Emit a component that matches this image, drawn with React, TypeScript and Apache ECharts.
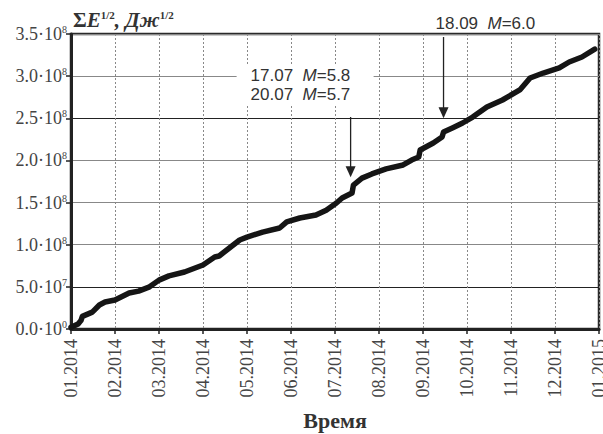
import React, { useEffect, useRef } from "react";
import * as echarts from "echarts";

const monthLabels = [
  "01.2014", "02.2014", "03.2014", "04.2014", "05.2014", "06.2014", "07.2014",
  "08.2014", "09.2014", "10.2014", "11.2014", "12.2014", "01.2015",
];

// Dates of the curve points
const dates = [
  "2014-01-01", "2014-01-06", "2014-01-08", "2014-01-09", "2014-01-16", "2014-01-21",
  "2014-01-25", "2014-02-01", "2014-02-10", "2014-02-16", "2014-02-23", "2014-03-01",
  "2014-03-08", "2014-03-19", "2014-04-01", "2014-04-09", "2014-04-12", "2014-04-26",
  "2014-05-01", "2014-05-12", "2014-05-24", "2014-05-29", "2014-06-07", "2014-06-18",
  "2014-06-25", "2014-07-02", "2014-07-06", "2014-07-13", "2014-07-14", "2014-07-20",
  "2014-07-27", "2014-08-06", "2014-08-18", "2014-08-24", "2014-08-29", "2014-08-30",
  "2014-09-08", "2014-09-14", "2014-09-15", "2014-09-21", "2014-09-28", "2014-10-05",
  "2014-10-15", "2014-10-26", "2014-11-07", "2014-11-14", "2014-11-23", "2014-12-04",
  "2014-12-11", "2014-12-20", "2014-12-29",
];
// Cumulative sum of E^(1/2), in units of 1e8 J^(1/2)
const sumE8 = [
  0.02, 0.06, 0.1, 0.15, 0.2, 0.285,
  0.32, 0.344, 0.427, 0.45, 0.5, 0.58,
  0.63, 0.676, 0.76, 0.854, 0.866, 1.056,
  1.09, 1.15, 1.198, 1.27, 1.317, 1.353,
  1.41, 1.495, 1.554, 1.613, 1.708, 1.79,
  1.84, 1.9, 1.946, 2.005, 2.04, 2.124,
  2.207, 2.278, 2.337, 2.385, 2.444, 2.515,
  2.634, 2.717, 2.836, 2.978, 3.037, 3.097,
  3.168, 3.227, 3.32,
];

// Annotations (arrows)
const arrowDates = ["2014-07-12", "2014-09-15"];
const arrowTopE8 = [2.515, 3.464];
const arrowTipE8 = [1.8, 2.5];

const SERIF = "Liberation Serif";
const SANS = "Liberation Sans";

function toMonth(d: string): number {
  const [y, m, day] = d.split("-").map(Number);
  const dim = new Date(y, m, 0).getDate();
  return (y - 2014) * 12 + (m - 1) + (day - 1) / dim;
}

function yLabel(v: number): string {
  if (v === 0) return "0.0·10{s|0}";
  const e = Math.floor(Math.log10(v) + 1e-9);
  const m = v / Math.pow(10, e);
  return m.toFixed(1) + "·10{s|" + e + "}";
}

export default function App() {
  const ref = useRef<HTMLDivElement>(null);
  useEffect(() => {
    if (!ref.current) return;
    const chart = echarts.init(ref.current, undefined, { renderer: "svg" });
    const data = dates.map((d, i) => [toMonth(d), sumE8[i] * 1e8]);
    chart.setOption({
      animation: false,
      grid: {
        left: 71,
        right: 4,
        top: 34,
        bottom: 105,
        containLabel: false,
        outerBoundsMode: "none",
        show: true,
        borderColor: "#2a2a2a",
        borderWidth: 2.5,
        backgroundColor: "transparent",
      },
      xAxis: {
        type: "value",
        min: 0,
        max: 12,
        interval: 1,
        name: "Время",
        nameLocation: "middle",
        nameGap: 80,
        nameTextStyle: { fontFamily: SERIF, fontWeight: "bold", fontSize: 22, color: "#333" },
        axisLine: { show: true, onZero: false, lineStyle: { color: "#222", width: 3 } },
        axisTick: { show: true, length: 5, lineStyle: { color: "#222", width: 1.5 } },
        axisLabel: {
          rotate: 90,
          margin: 10,
          fontFamily: SERIF,
          fontSize: 18,
          color: "#444",
          hideOverlap: false,
          formatter: (v: number) => monthLabels[Math.round(v)] ?? "",
        },
        splitLine: { show: true, lineStyle: { color: "#888", width: 1, type: [2, 2] } },
      },
      yAxis: {
        type: "value",
        min: 0,
        max: 3.5e8,
        interval: 5e7,
        axisLine: { show: true, lineStyle: { color: "#222", width: 3 } },
        axisTick: { show: true, length: 5, lineStyle: { color: "#222", width: 1.5 } },
        axisLabel: {
          margin: 4,
          fontFamily: SERIF,
          fontSize: 18,
          color: "#444",
          formatter: yLabel,
          rich: {
            s: { fontFamily: SERIF, fontSize: 10, color: "#444", verticalAlign: "top", padding: [0, 0, 9, 0] },
          },
        },
        splitLine: {
          show: true,
          lineStyle: {
            color: ["#888", "#222", "#888", "#888", "#888", "#222", "#888", "#888"],
            width: 1,
          },
        },
      },
      series: [
        {
          type: "line",
          data,
          showSymbol: false,
          symbol: "none",
          lineStyle: { color: "#151515", width: 5.5, join: "round", cap: "round" },
          z: 5,
        },
      ],
    });

    const px = (d: string, v: number) =>
      chart.convertToPixel({ gridIndex: 0 }, [toMonth(d), v * 1e8]) as number[];
    const a1t = px(arrowDates[0], arrowTopE8[0]);
    const a1h = px(arrowDates[0], arrowTipE8[0]);
    const a2t = px(arrowDates[1], arrowTopE8[1]);
    const a2h = px(arrowDates[1], arrowTipE8[1]);

    const arrow = (top: number[], tip: number[]) => [
      {
        type: "line",
        shape: { x1: top[0], y1: top[1], x2: tip[0], y2: tip[1] - 8 },
        style: { stroke: "#222", lineWidth: 1.3 },
        z: 20,
      },
      {
        type: "polygon",
        shape: { points: [[tip[0], tip[1]], [tip[0] - 5, tip[1] - 11], [tip[0] + 5, tip[1] - 11]] },
        style: { fill: "#222" },
        z: 20,
      },
    ];
    const annoStyle = (text: string, x: number, y: number) => ({
      type: "text",
      x,
      y,
      z: 21,
      style: {
        text,
        fontFamily: SANS,
        fontSize: 17,
        fill: "#333",
        verticalAlign: "middle",
        rich: { i: { fontFamily: SANS, fontSize: 17, fontStyle: "italic", fill: "#333" } },
      },
    });

    chart.setOption({
      graphic: [
        {
          type: "rect",
          shape: { x: a1t[0] - 114, y: a1t[1] - 53, width: 137, height: 40 },
          style: { fill: "#fff" },
          z: 19,
        },
        annoStyle("17.07\u00a0\u00a0{i|M}=5.8", a1t[0] - 100, a1t[1] - 42),
        annoStyle("20.07\u00a0\u00a0{i|M}=5.7", a1t[0] - 100, a1t[1] - 23),
        annoStyle("18.09\u00a0\u00a0{i|M}=6.0", a2t[0] - 8, a2t[1] - 14),
        ...arrow(a1t, a1h),
        ...arrow(a2t, a2h),
        {
          type: "text",
          x: 73,
          y: 20,
          z: 21,
          style: {
            text: "{r|Σ}{b|E}{s|1/2}{b|, Дж}{s|1/2}",
            verticalAlign: "middle",
            rich: {
              r: { fontFamily: SERIF, fontSize: 21, fontWeight: "bold", fill: "#333" },
              b: { fontFamily: SERIF, fontSize: 21, fontWeight: "bold", fontStyle: "italic", fill: "#333" },
              s: { fontFamily: SERIF, fontSize: 11, fontWeight: "bold", fill: "#333", verticalAlign: "top", padding: [0, 0, 10, 0] },
            },
          },
        },
      ],
    });

    return () => chart.dispose();
  }, []);
  return (
    <div
      ref={ref}
      style={{ position: "fixed", left: 0, top: 0, width: 603, height: 434, background: "#fff" }}
    />
  );
}
